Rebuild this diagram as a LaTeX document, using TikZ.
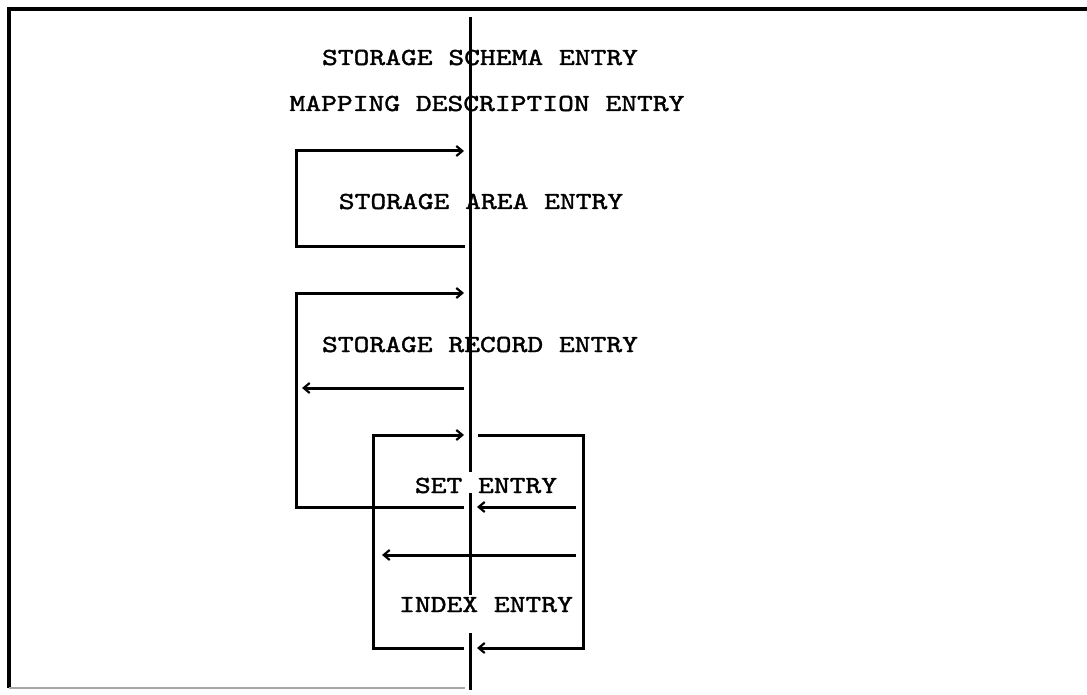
\documentclass[tikz,border=0pt]{standalone}
\usepackage{fontspec}
\newfontfamily\typew{lmmono10-regular.otf}[FakeBold=1.6,FakeStretch=1.228]
\usetikzlibrary{arrows.meta}
\begin{document}
\begin{tikzpicture}[x=1pt,y=-1pt,
  ln/.style={line width=3pt},
  arr/.style={ln,-{Straight Barb[length=6pt,width=10pt,line width=2.2pt]}},
  lbl/.style={font=\fontsize{24.5}{28}\typew, inner sep=0pt, anchor=base}]
\useasboundingbox (0,0) rectangle (1087,695);
% frame
\coordinate (fTR) at (1087,9);
\coordinate (fTL) at (9,9);
\coordinate (fBL) at (9,688);
\coordinate (fBM) at (465,688);
\draw[line width=3.4pt] (fTR) -- (fTL) -- (fBL);
\draw[line width=2pt, black!35] (fBL) -- (fBM);
% labels
\node[lbl] (schema) at (480,65) {STORAGE SCHEMA ENTRY};
\node[lbl] (mapping) at (487,111) {MAPPING DESCRIPTION ENTRY};
\node[lbl] (area) at (481,209) {STORAGE AREA ENTRY};
\node[lbl] (record) at (480,352) {STORAGE RECORD ENTRY};
\node[lbl] (set) at (486,493) {SET ENTRY};
\node[lbl] (index) at (486,612) {INDEX ENTRY};
% main vertical line
\coordinate (v1a) at (470,17);  \coordinate (v1b) at (470,472);
\coordinate (v2a) at (470,493); \coordinate (v2b) at (470,595);
\coordinate (v3a) at (470,633); \coordinate (v3b) at (470,690);
\draw[ln] (v1a) -- (v1b);
\draw[ln] (v2a) -- (v2b);
\draw[ln] (v3a) -- (v3b);
% storage area loop
\coordinate (aS) at (465,247); \coordinate (aBL) at (296,247);
\coordinate (aTL) at (296,151); \coordinate (aE) at (464,151);
\draw[arr] (aS) -- (aBL) -- (aTL) -- (aE);
% storage record loop
\coordinate (rS) at (464,507); \coordinate (rBL) at (296,507);
\coordinate (rTL) at (296,293); \coordinate (rE) at (464,293);
\draw[arr] (rS) -- (rBL) -- (rTL) -- (rE);
% arrow left under record
\coordinate (rlS) at (464,388); \coordinate (rlE) at (302,388);
\draw[arr] (rlS) -- (rlE);
% set/index box, left half
\coordinate (sS) at (464,648); \coordinate (sBL) at (373,648);
\coordinate (sTL) at (373,435); \coordinate (sE) at (464,435);
\draw[arr] (sS) -- (sBL) -- (sTL) -- (sE);
% set/index box, right half
\coordinate (tS) at (478,435); \coordinate (tTR) at (583,435);
\coordinate (tBR) at (583,648); \coordinate (tE) at (477,648);
\draw[arr] (tS) -- (tTR) -- (tBR) -- (tE);
% arrow into set entry
\coordinate (u1S) at (576,507); \coordinate (u1E) at (477,507);
\draw[arr] (u1S) -- (u1E);
% long arrow between set and index
\coordinate (u2S) at (576,555); \coordinate (u2E) at (382,555);
\draw[arr] (u2S) -- (u2E);
\end{tikzpicture}
\end{document}
